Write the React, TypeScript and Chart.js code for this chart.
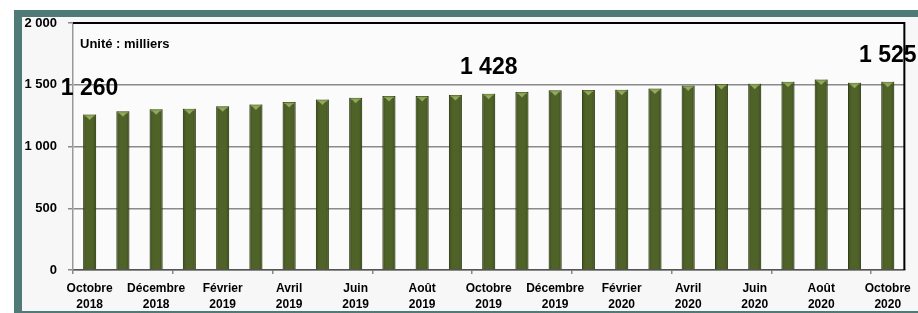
import React, { useEffect, useRef } from "react";
import { Chart, registerables } from "chart.js";

Chart.register(...registerables);

const months = [
  "Octobre", "Novembre", "Décembre", "Janvier", "Février", "Mars", "Avril", "Mai", "Juin",
  "Juillet", "Août", "Septembre", "Octobre", "Novembre", "Décembre", "Janvier", "Février",
  "Mars", "Avril", "Mai", "Juin", "Juillet", "Août", "Septembre", "Octobre",
];
const years = [
  "2018", "2018", "2018", "2019", "2019", "2019", "2019", "2019", "2019", "2019", "2019",
  "2019", "2019", "2019", "2019", "2020", "2020", "2020", "2020", "2020", "2020", "2020",
  "2020", "2020", "2020",
];
const values = [
  1260, 1285, 1301, 1306, 1325, 1341, 1360, 1380, 1394, 1409, 1409, 1418, 1428, 1442,
  1455, 1458, 1460, 1469, 1493, 1506, 1509, 1525, 1543, 1517, 1525,
];
const labelledIdx = [0, 12, 24];
const yTicks = [0, 500, 1000, 1500, 2000];
const unitText = "Unité : milliers";

const FONT = "'Liberation Sans', Arial, sans-serif";
const fmt = (v: number) => String(v).replace(/\B(?=(\d{3})+(?!\d))/g, " ");

export default function App() {
  const ref = useRef<HTMLCanvasElement | null>(null);
  useEffect(() => {
    if (!ref.current) return;
    const bgPlugin = {
      id: "bg",
      beforeDraw(chart: any) {
        const { ctx, width, height, chartArea } = chart;
        ctx.save();
        ctx.fillStyle = "#ffffff";
        ctx.fillRect(0, 0, width, height);
        ctx.fillStyle = "#4f7a77";
        ctx.fillRect(14, 10, width - 14, height - 10);
        ctx.fillStyle = "#f7f7f7";
        ctx.fillRect(22, 17, width - 22, height - 2 - 17);
        ctx.fillStyle = "#fbfbfb";
        ctx.fillRect(chartArea.left, chartArea.top, chartArea.right - chartArea.left, chartArea.bottom - chartArea.top);
        ctx.restore();
      },
    };
    const decoPlugin = {
      id: "deco",
      afterDatasetsDraw(chart: any) {
        const { ctx, chartArea } = chart;
        const meta = chart.getDatasetMeta(0);
        ctx.save();
        // bar shading and caps
        meta.data.forEach((el: any) => {
          const w = el.width;
          const l = el.x - w / 2;
          const r = el.x + w / 2;
          const g = ctx.createLinearGradient(l, 0, r, 0);
          g.addColorStop(0, "rgba(30,40,10,0.35)");
          g.addColorStop(0.25, "rgba(30,40,10,0)");
          g.addColorStop(0.75, "rgba(30,40,10,0)");
          g.addColorStop(1, "rgba(30,40,10,0.35)");
          ctx.fillStyle = g;
          ctx.fillRect(l, el.y, w, el.base - el.y);
          ctx.fillStyle = "#7d9448";
          ctx.fillRect(l + 1.5, el.y + 0.5, w - 3, 1.5);
          ctx.fillStyle = "#93aa5e";
          ctx.beginPath();
          ctx.moveTo(l + 2.5, el.y + 1.5);
          ctx.lineTo(r - 2.5, el.y + 1.5);
          ctx.lineTo(el.x, el.y + 5.5);
          ctx.closePath();
          ctx.fill();
        });
        // data labels
        ctx.fillStyle = "#000";
        ctx.font = `bold 23px ${FONT}`;
        ctx.textAlign = "center";
        ctx.textBaseline = "middle";
        labelledIdx.forEach((i) => {
          const el = meta.data[i];
          ctx.fillText(fmt(values[i]), el.x, el.y - 26);
        });
        ctx.font = `bold 13px ${FONT}`;
        ctx.textAlign = "left";
        ctx.fillText(unitText, 80, 44);
        // frame lines
        ctx.strokeStyle = "#000";
        ctx.lineWidth = 2;
        ctx.beginPath();
        ctx.moveTo(chartArea.left, chartArea.top);
        ctx.lineTo(chartArea.right, chartArea.top);
        ctx.lineTo(chartArea.right, chartArea.bottom);
        ctx.stroke();
        ctx.restore();
      },
    };
    const chart = new Chart(ref.current, {
      type: "bar",
      data: {
        labels: months.map((m, i) => `${m} ${years[i]}`),
        datasets: [
          {
            data: values,
            backgroundColor: "#4f6228",
            borderColor: "#3c4b1d",
            borderWidth: 1,
            barPercentage: 0.39,
            categoryPercentage: 1,
          },
        ],
      },
      options: {
        responsive: false,
        animation: false,
        layout: { padding: { left: 0, top: 23, right: 13, bottom: 0 } },
        plugins: { legend: { display: false }, tooltip: { enabled: false } },
        scales: {
          x: {
            afterFit: (s: any) => {
              s.height = 43;
            },
            grid: {
              offset: true,
              drawOnChartArea: false,
              drawTicks: true,
              tickLength: 4,
              color: (c: any) => (c.index % 3 === 0 && c.index < 25 ? "#888" : "rgba(0,0,0,0)"),
              lineWidth: 1.5,
            },
            border: { display: true, color: "#555", width: 1.5 },
            ticks: {
              autoSkip: false,
              maxRotation: 0,
              minRotation: 0,
              padding: 7,
              color: "#000",
              font: { family: FONT, weight: "bold", size: 12, lineHeight: 1.33 },
              callback: (_v: any, i: number) => (i % 2 === 0 ? [months[i], years[i]] : ""),
            },
          },
          y: {
            min: 0,
            max: 2000,
            afterFit: (s: any) => {
              s.width = 73;
            },
            afterBuildTicks: (s: any) => {
              s.ticks = yTicks.map((v) => ({ value: v }));
            },
            grid: {
              color: (c: any) => (c.tick && c.tick.value === 2000 ? "rgba(0,0,0,0)" : "#8a8a8a"),
              lineWidth: 1.5,
              drawTicks: true,
              tickLength: 5,
              tickColor: "#8a8a8a",
            },
            border: { display: true, color: "#999", width: 1.5 },
            ticks: {
              padding: 11,
              color: "#000",
              font: { family: FONT, weight: "bold", size: 13 },
              callback: (v: any) => fmt(Number(v)),
            },
          },
        },
      },
      plugins: [bgPlugin, decoPlugin],
    });
    return () => chart.destroy();
  }, []);
  return (
    <div style={{ position: "absolute", left: 0, top: 0, width: 918, height: 313 }}>
      <canvas ref={ref} width={918} height={313} />
    </div>
  );
}
